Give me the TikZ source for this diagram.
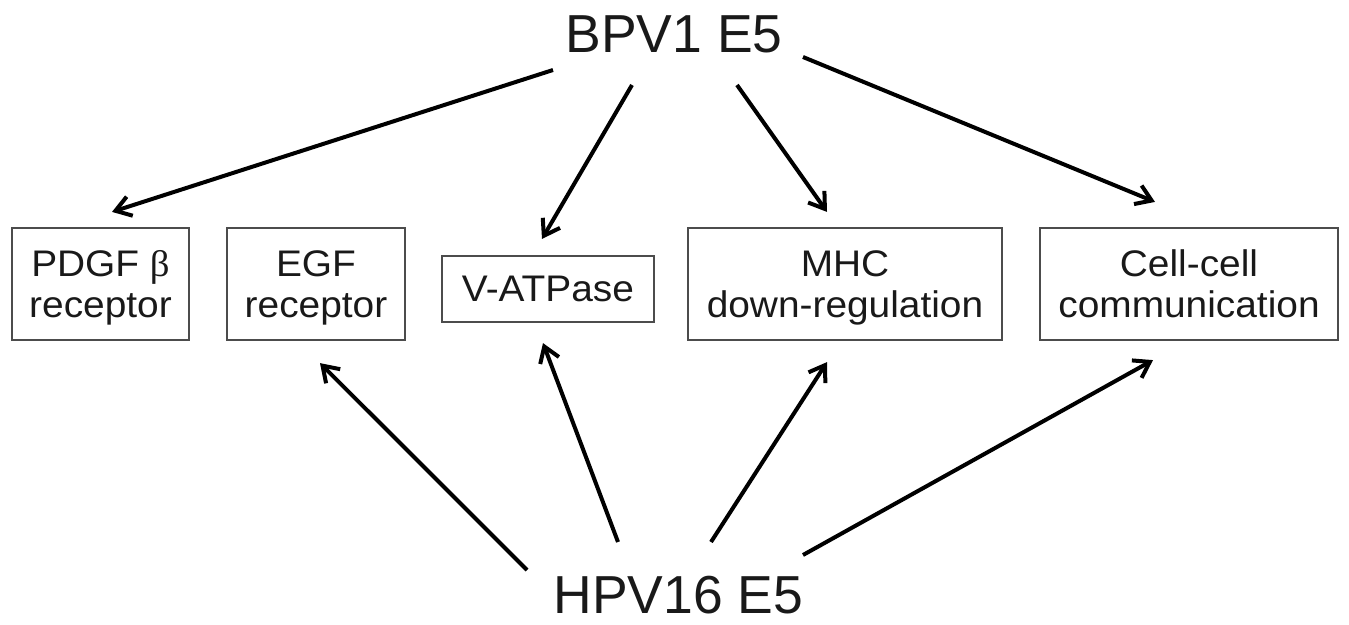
\documentclass[tikz,border=0pt]{standalone}
\usepackage{fontspec}
\setmainfont{Liberation Sans}
\newfontfamily\boxfont[FakeStretch=1.05]{Liberation Sans}
\newfontfamily\betafont[FakeStretch=1.05]{Liberation Serif}
\usetikzlibrary{arrows.meta}
\newcommand\toprule{\rule{0pt}{33pt}}
\newcommand\botrule{\rule[-8pt]{0pt}{8pt}}
\begin{document}
\begin{tikzpicture}[x=1pt,y=-1pt,
  box/.style={draw=black!70,line width=2.2pt,rectangle,inner sep=0pt,align=center,
    font=\boxfont\fontsize{37}{41}\selectfont,text=black!90},
  title/.style={anchor=base,font=\fontsize{53.5}{60}\selectfont,text=black!90,inner sep=0pt},
  arr/.style={line width=4pt,-{Straight Barb[length=15pt,width=20pt]}}]
\useasboundingbox (0,0) rectangle (1349,624);
\node[title] (bpv) at (674,52) {BPV1 E5};
\node[title] (hpv) at (678.5,613) {HPV16 E5};
\node[box,minimum width=177pt,minimum height=112pt] (pdgf) at (100.5,284) {\toprule PDGF {\betafont β}\\receptor\botrule};
\node[box,minimum width=178pt,minimum height=112pt] (egf) at (316,284) {\toprule EGF\\receptor\botrule};
\node[box,minimum width=212pt,minimum height=66pt] (vat) at (548,289) {\toprule V-ATPase\botrule};
\node[box,minimum width=314pt,minimum height=112pt] (mhc) at (845,284) {\toprule MHC\\down-regulation\botrule};
\node[box,minimum width=298pt,minimum height=112pt] (cell) at (1189,284) {\toprule Cell-cell\\communication\botrule};
\draw[arr] ([shift={(-121,18)}]bpv.base) -- ([shift={(11.5,-15)}]pdgf.north);
\draw[arr] ([shift={(-42,33)}]bpv.base) -- ([shift={(-6,-16)}]vat.north);
\draw[arr] ([shift={(63,33)}]bpv.base) -- ([shift={(-18,-15)}]mhc.north);
\draw[arr] ([shift={(129,5)}]bpv.base) -- ([shift={(-34,-25)}]cell.north);
\draw[arr] ([shift={(-151.5,-43)}]hpv.base) -- ([shift={(4,22)}]egf.south);
\draw[arr] ([shift={(-60.5,-71)}]hpv.base) -- ([shift={(-5,20)}]vat.south);
\draw[arr] ([shift={(32.5,-71)}]hpv.base) -- ([shift={(-18,21)}]mhc.south);
\draw[arr] ([shift={(124.5,-58)}]hpv.base) -- ([shift={(-36,19)}]cell.south);
\end{tikzpicture}
\end{document}
